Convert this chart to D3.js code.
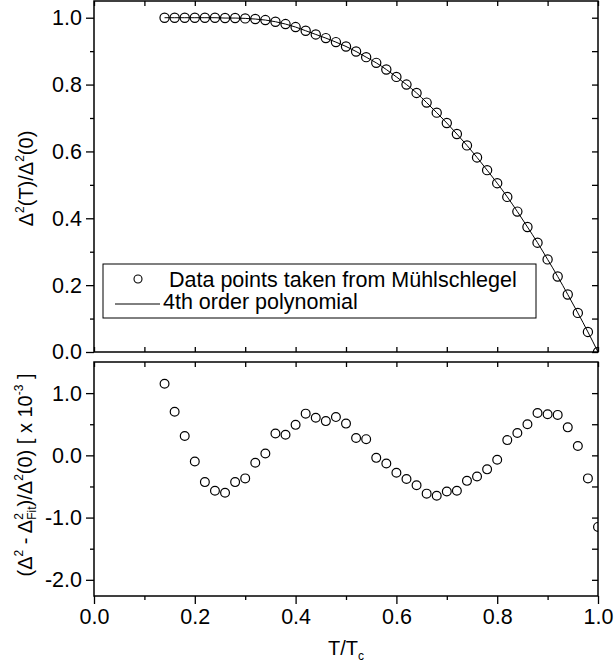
<!DOCTYPE html>
<html>
<head>
<meta charset="utf-8">
<script src="https://cdn.jsdelivr.net/npm/d3@7"></script>
<style>
  body { margin: 0; background: #fff; }
  svg text { font-family: "Liberation Sans", Arial, sans-serif; fill: #000; }
</style>
</head>
<body>
<svg id="chart" width="616" height="672"></svg>
<script>
// reduced temperature T/Tc
const tOverTc = [
  0.14, 0.16, 0.18, 0.20, 0.22, 0.24, 0.26, 0.28, 0.30, 0.32, 0.34,
  0.36, 0.38, 0.40, 0.42, 0.44, 0.46, 0.48, 0.50, 0.52, 0.54, 0.56,
  0.58, 0.60, 0.62, 0.64, 0.66, 0.68, 0.70, 0.72, 0.74, 0.76, 0.78,
  0.80, 0.82, 0.84, 0.86, 0.88, 0.90, 0.92, 0.94, 0.96, 0.98, 1.00];

// Delta^2(T)/Delta^2(0), Muehlschlegel points
const gapSquared = [
  1.000, 1.000, 1.000, 1.000, 1.000, 1.000, 0.999, 0.999, 0.998, 0.996, 0.993,
  0.988, 0.981, 0.972, 0.961, 0.950, 0.939, 0.927, 0.914, 0.899, 0.882, 0.865,
  0.845, 0.823, 0.800, 0.775, 0.746, 0.716, 0.685, 0.652, 0.618, 0.582, 0.544,
  0.505, 0.464, 0.420, 0.374, 0.327, 0.277, 0.226, 0.172, 0.117, 0.060, 0.000];

// (Delta^2 - Delta^2_fit)/Delta^2(0) in units of 1e-3
const residual = [
  1.15, 0.70, 0.31, -0.10, -0.43, -0.57, -0.60, -0.43, -0.37, -0.12, 0.03,
  0.35, 0.33, 0.49, 0.67, 0.605, 0.55, 0.615, 0.51, 0.28, 0.26, -0.04,
  -0.13, -0.28, -0.38, -0.48, -0.615, -0.65, -0.58, -0.57, -0.41, -0.34, -0.225,
  -0.07, 0.245, 0.36, 0.50, 0.68, 0.66, 0.65, 0.45, 0.15, -0.37, -1.15];

const xMajor = [0, 0.2, 0.4, 0.6, 0.8, 1.0];
const xMinor = [0.1, 0.3, 0.5, 0.7, 0.9];
const topYMajor = [0, 0.2, 0.4, 0.6, 0.8, 1.0];
const topYMinor = [0.1, 0.3, 0.5, 0.7, 0.9];
const botYMajor = [-2, -1, 0, 1];
const botYMinor = [-1.5, -0.5, 0.5];

const points = tOverTc.map((t, i) => ({t, g: gapSquared[i], r: residual[i]}));

const left = 94, right = 598;
const top1 = 1, bot1 = 352;
const top2 = 362, bot2 = 596;
const font = 20;
const tickFont = 21.5;

const x = d3.scaleLinear().domain([0, 1]).range([left, right]);
const yTop = d3.scaleLinear().domain([0, 1.05]).range([bot1, top1]);
const yBot = d3.scaleLinear().domain([-2.26, 1.5]).range([bot2, top2]);

const fmt = d => d.toFixed(1);
const svg = d3.select("#chart");

function addAxis(axis, tx, ty) {
  const g = svg.append("g")
    .attr("transform", `translate(${tx},${ty})`)
    .call(axis);
  g.select(".domain").remove();
  g.attr("font-size", tickFont).attr("font-family", null);
  g.selectAll("line").attr("stroke", "#000").attr("stroke-width", 1.3);
  return g;
}

// ---- top panel axes
addAxis(d3.axisLeft(yTop).tickValues(topYMajor).tickSize(8).tickPadding(4).tickFormat(fmt), left, 0);
addAxis(d3.axisLeft(yTop).tickValues(topYMinor).tickSize(4).tickFormat(""), left, 0);
addAxis(d3.axisRight(yTop).tickValues(topYMajor.concat(topYMinor)).tickSize(-6).tickFormat(""), right, 0);
addAxis(d3.axisTop(x).tickValues(xMajor.concat(xMinor)).tickSize(-5).tickFormat(""), 0, top1);
addAxis(d3.axisBottom(x).tickValues(xMajor.concat(xMinor)).tickSize(-5).tickFormat(""), 0, bot1);

// ---- bottom panel axes
addAxis(d3.axisLeft(yBot).tickValues(botYMajor).tickSize(8).tickPadding(4).tickFormat(fmt), left, 0);
addAxis(d3.axisLeft(yBot).tickValues(botYMinor).tickSize(4).tickFormat(""), left, 0);
addAxis(d3.axisRight(yBot).tickValues(botYMajor.concat(botYMinor)).tickSize(-6).tickFormat(""), right, 0);
addAxis(d3.axisTop(x).tickValues(xMajor.concat(xMinor)).tickSize(-5).tickFormat(""), 0, top2);
addAxis(d3.axisBottom(x).tickValues(xMajor).tickSize(8).tickPadding(5).tickFormat(fmt), 0, bot2);
addAxis(d3.axisBottom(x).tickValues(xMinor).tickSize(4).tickFormat(""), 0, bot2);

// frames
[[top1, bot1], [top2, bot2]].forEach(([a, b]) => {
  svg.append("rect")
    .attr("x", left).attr("y", a)
    .attr("width", right - left).attr("height", b - a)
    .attr("fill", "none").attr("stroke", "#000").attr("stroke-width", 1.5);
});

// clip paths
const defs = svg.append("defs");
defs.append("clipPath").attr("id", "clipTop").append("rect")
  .attr("x", left).attr("y", top1).attr("width", right - left).attr("height", bot1 - top1);
defs.append("clipPath").attr("id", "clipBot").append("rect")
  .attr("x", left).attr("y", top2).attr("width", right - left).attr("height", bot2 - top2);

// ---- top panel: fit line + points
const topG = svg.append("g").attr("clip-path", "url(#clipTop)");
topG.append("path")
  .datum(points)
  .attr("fill", "none")
  .attr("stroke", "#000")
  .attr("stroke-width", 1)
  .attr("d", d3.line().x(d => x(d.t)).y(d => yTop(d.g)).curve(d3.curveMonotoneX));

topG.selectAll("circle")
  .data(points)
  .join("circle")
  .attr("cx", d => x(d.t))
  .attr("cy", d => yTop(d.g))
  .attr("r", 4.6)
  .attr("fill", "none")
  .attr("stroke", "#000")
  .attr("stroke-width", 1.2);

// ---- bottom panel: residual points
svg.append("g").attr("clip-path", "url(#clipBot)")
  .selectAll("circle")
  .data(points)
  .join("circle")
  .attr("cx", d => x(d.t))
  .attr("cy", d => yBot(d.r))
  .attr("r", 4.4)
  .attr("fill", "none")
  .attr("stroke", "#000")
  .attr("stroke-width", 1.2);

// ---- legend
const leg = svg.append("g");
leg.append("rect")
  .attr("x", 103).attr("y", 264).attr("width", 433).attr("height", 54)
  .attr("fill", "#fff").attr("stroke", "#000").attr("stroke-width", 1);
leg.append("circle")
  .attr("cx", 138).attr("cy", 279).attr("r", 4)
  .attr("fill", "none").attr("stroke", "#000").attr("stroke-width", 1.1);
leg.append("line")
  .attr("x1", 115).attr("x2", 160).attr("y1", 304).attr("y2", 304)
  .attr("stroke", "#000").attr("stroke-width", 1);
leg.append("text").attr("x", 169).attr("y", 287).attr("font-size", tickFont)
  .text("Data points taken from Mühlschlegel");
leg.append("text").attr("x", 163).attr("y", 309).attr("font-size", tickFont)
  .text("4th order polynomial");

// ---- axis titles
const sup = 12;
const t1 = svg.append("text")
  .attr("transform", `translate(33,${(top1 + bot1) / 2 + 2}) rotate(-90)`)
  .attr("text-anchor", "middle")
  .attr("font-size", font);
t1.append("tspan").text("Δ");
t1.append("tspan").attr("font-size", sup).attr("dy", -9).text("2");
t1.append("tspan").attr("dy", 9).text("(T)/Δ");
t1.append("tspan").attr("font-size", sup).attr("dy", -9).text("2");
t1.append("tspan").attr("dy", 9).text("(0)");

const t2 = svg.append("text")
  .attr("transform", `translate(32,${(top2 + bot2) / 2 - 4}) rotate(-90)`)
  .attr("text-anchor", "middle")
  .attr("font-size", font);
t2.append("tspan").text("(Δ");
t2.append("tspan").attr("font-size", sup).attr("dy", -9).text("2");
t2.append("tspan").attr("dy", 9).text(" - Δ");
t2.append("tspan").attr("font-size", sup).attr("dy", -9).text("2");
t2.append("tspan").attr("font-size", sup).attr("dx", -6.7).attr("dy", 13).text("Fit");
t2.append("tspan").attr("dy", -4).text(")/Δ");
t2.append("tspan").attr("font-size", sup).attr("dy", -9).text("2");
t2.append("tspan").attr("dy", 9).text("(0) [ x 10");
t2.append("tspan").attr("font-size", sup).attr("dy", -9).text("-3");
t2.append("tspan").attr("dy", 9).text(" ]");

const t3 = svg.append("text")
  .attr("x", (left + right) / 2)
  .attr("y", 655)
  .attr("text-anchor", "middle")
  .attr("font-size", font);
t3.append("tspan").text("T/T");
t3.append("tspan").attr("font-size", sup).attr("dy", 5).text("c");
</script>
</body>
</html>
